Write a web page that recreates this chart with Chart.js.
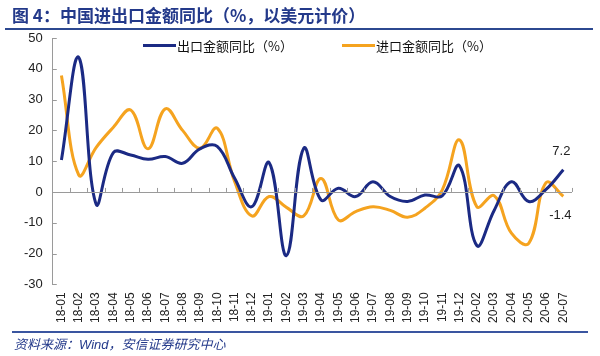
<!DOCTYPE html>
<html><head><meta charset="utf-8">
<script src="https://cdn.jsdelivr.net/npm/chart.js@4/dist/chart.umd.min.js"></script>
<style>
html,body{margin:0;padding:0;background:#fff;}
#wrap{position:relative;width:600px;height:356px;overflow:hidden;font-family:"Liberation Sans","Noto Sans CJK SC",sans-serif;}
#c{position:absolute;left:0;top:0;}
.t{position:absolute;white-space:nowrap;}
#title{left:12px;top:2px;font-size:17px;font-weight:bold;color:#23398a;font-family:"Noto Sans CJK SC","Liberation Sans",sans-serif;}
#tline{position:absolute;left:5px;top:28px;width:588px;height:2px;background:#2c4890;}
#fline{position:absolute;left:12px;top:331px;width:576px;height:1.5px;background:#3a55a0;}
#src{left:14px;top:334px;font-size:13px;font-style:italic;color:#23398a;}
.lg{position:absolute;top:44px;height:3px;width:33px;}
.lt{top:36px;font-size:13px;color:#111;font-family:"Noto Sans CJK SC","Liberation Sans",sans-serif;}
</style></head>
<body>
<div id="wrap">
<canvas id="c" width="600" height="356"></canvas>
<div class="t" id="title">图 4：中国进出口金额同比（%，以美元计价）</div>
<div id="tline"></div>
<div class="lg" style="left:143px;background:#1b2a84"></div>
<div class="t lt" style="left:177px">出口金额同比（%）</div>
<div class="lg" style="left:342px;background:#f5a31f"></div>
<div class="t lt" style="left:376px">进口金额同比（%）</div>
<div id="fline"></div>
<div class="t" id="src">资料来源：Wind，安信证券研究中心</div>
</div>
<script>
const categories = ["18-01","18-02","18-03","18-04","18-05","18-06","18-07","18-08","18-09","18-10","18-11","18-12",
  "19-01","19-02","19-03","19-04","19-05","19-06","19-07","19-08","19-09","19-10","19-11","19-12",
  "20-02","20-03","20-04","20-05","20-06","20-07"];
const exportYoY = [10.4, 43.7, -3.9, 12.8, 12.0, 10.6, 11.5, 9.3, 14.0, 14.8, 4.5, -4.8,
  9.5, -20.7, 14.2, -2.6, 1.2, -1.5, 3.3, -1.5, -3.1, -1.0, -1.3, 8.5,
  -17.4, -6.0, 3.3, -3.1, 0.8, 7.2];
const importYoY = [37.8, 5.5, 14.4, 21.0, 26.6, 14.0, 27.0, 20.0, 14.2, 20.7, 3.5, -7.8,
  -1.5, -5.0, -7.8, 4.4, -9.1, -6.4, -4.8, -6.0, -8.2, -5.3, 0.6, 16.9,
  -4.8, -1.2, -13.4, -16.7, 3.0, -1.4];
const seriesNames = ["出口金额同比（%）","进口金额同比（%）"];
const yTicks = {min:-30, max:50, step:10};

const axisPlugin = {
  id:'axisPlugin',
  afterDatasetsDraw(chart){
    const ctx = chart.ctx, a = chart.chartArea;
    const x = chart.scales.x, y = chart.scales.y;
    const y0 = y.getPixelForValue(0);
    ctx.save();
    ctx.strokeStyle = '#9a9a9a'; ctx.lineWidth = 1;
    ctx.beginPath();
    ctx.moveTo(a.left, Math.round(y0)+0.5); ctx.lineTo(a.right, Math.round(y0)+0.5);
    const n = categories.length;
    const step = x.getPixelForValue(1)-x.getPixelForValue(0);
    for (let i=1;i<=n;i++){
      const px = Math.round(x.getPixelForValue(i-1) + step/2)+0.5;
      ctx.moveTo(px, y0); ctx.lineTo(px, y0-4);
    }
    for (let v=yTicks.min; v<=yTicks.max; v+=yTicks.step){
      const py = Math.round(y.getPixelForValue(v))+0.5;
      ctx.moveTo(a.left, py); ctx.lineTo(a.left+4, py);
    }
    ctx.stroke();
    ctx.fillStyle = '#222';
    ctx.font = '13px "Liberation Sans", Arial, sans-serif';
    ctx.textAlign = 'center'; ctx.textBaseline = 'middle';
    const li = n-1;
    const ex = x.getPixelForValue(li);
    ctx.fillText(String(exportYoY[li]), ex-2, y.getPixelForValue(exportYoY[li]) - 18);
    ctx.fillText(String(importYoY[li]), ex-3, y.getPixelForValue(importYoY[li]) + 19);
    ctx.restore();
  }
};

new Chart(document.getElementById('c'), {
  type:'line',
  data:{
    labels:categories,
    datasets:[
      {label:seriesNames[0], data:exportYoY, borderColor:'#1b2a84', borderWidth:3, tension:0.4, pointRadius:0, fill:false},
      {label:seriesNames[1], data:importYoY, borderColor:'#f5a31f', borderWidth:3, tension:0.4, pointRadius:0, fill:false}
    ]
  },
  options:{
    responsive:false, animation:false,
    layout:{padding:{left:14, right:28, top:38, bottom:25}},
    plugins:{legend:{display:false}, tooltip:{enabled:false}},
    scales:{
      x:{
        offset:true,
        grid:{display:false, drawTicks:false},
        border:{display:false},
        ticks:{autoSkip:false, maxRotation:90, minRotation:90, padding:8, color:'#222',
          font:{size:12, family:'"Liberation Sans", Arial, sans-serif'}}
      },
      y:{
        min:yTicks.min, max:yTicks.max,
        grid:{display:false, drawTicks:false},
        border:{display:true, color:'#9a9a9a', width:1},
        ticks:{stepSize:yTicks.step, padding:10, color:'#222',
          font:{size:13, family:'"Liberation Sans", Arial, sans-serif'}}
      }
    }
  },
  plugins:[axisPlugin]
});
</script>
</body></html>
